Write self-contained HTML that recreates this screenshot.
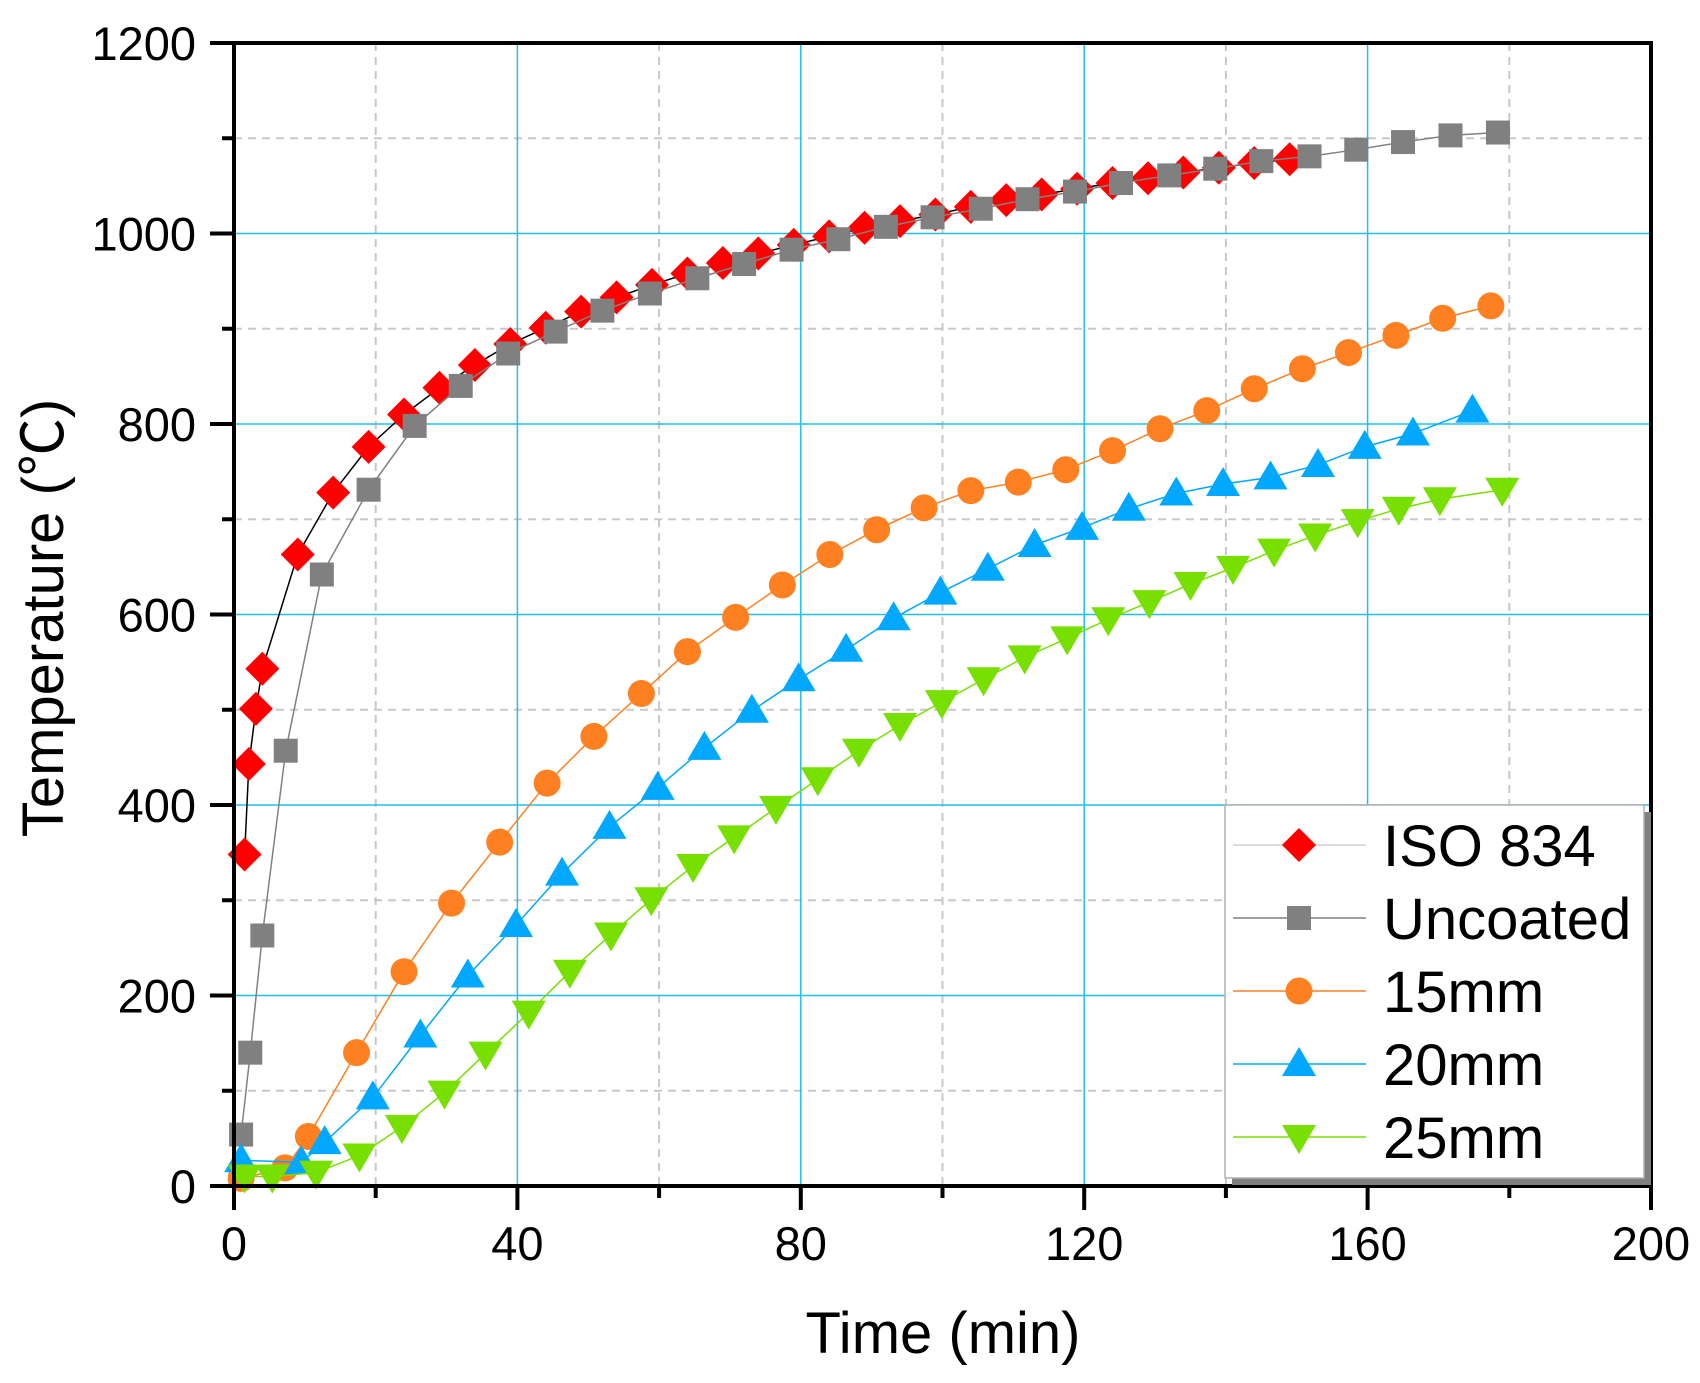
<!DOCTYPE html>
<html><head><meta charset="utf-8"><style>
html,body{margin:0;padding:0;background:#fff}
svg{display:block}
text{font-family:"Liberation Sans","Noto Sans CJK SC",sans-serif;fill:#000}
</style></head><body>
<svg id="chart" width="1700" height="1383" viewBox="0 0 1700 1383" xmlns="http://www.w3.org/2000/svg">
<g id="grid"></g>
<g id="series"></g>
<g id="axes"></g>
<g id="legend"></g>
<text x="943" y="1353" font-size="58" text-anchor="middle">Time (min)</text>
<text x="0" y="0" font-size="58" text-anchor="middle" transform="translate(63,618) rotate(-90)">Temperature (℃)</text>
</svg>
<script>
const xTicks=[0,40,80,120,160,200];
const yTicks=[0,200,400,600,800,1000,1200];
const isoT=[1.5,2.1,3.1,4,9,14,19,24,29,34,39,44,49,54,59,64,69,74,79,84,89,94,99,104,109,114,119,124,129,134,139,144,149];
const isoV=[348,443,501,543,663,728,776,810,838,862,884,901,918,933,946,958,969,979,988,997,1006,1013,1020,1028,1035,1041,1047,1053,1058,1064,1069,1074,1078];
const uncT=[1,2.3,4,7.3,12.4,19,25.5,32,38.7,45.4,52,58.7,65.4,72,78.7,85.3,92,98.6,105.4,112,118.7,125.2,132,138.5,145,151.8,158.4,165,171.7,178.4];
const uncV=[54,140,263,457,642,731,798,840,874,897,919,937,953,968,983,994,1007,1017,1026,1036,1044,1053,1061,1068,1076,1081,1088,1096,1103,1106];
const m15T=[1,7.2,10.5,17.3,24,30.7,37.5,44.2,50.8,57.5,64,70.8,77.4,84.1,90.7,97.4,104,110.7,117.4,124,130.7,137.3,144,150.8,157.3,164,170.6,177.4];
const m15V=[8,19,52,140,225,297,361,423,472,517,561,597,631,663,689,712,730,739,752,772,795,814,837,858,875,893,911,924];
const m20T=[1,9.5,12.8,19.6,26.3,33,39.8,46.3,53,59.8,66.4,73.1,79.7,86.4,93.1,99.7,106.4,113,119.7,126.3,133,139.6,146.3,153,159.6,166.4,174.8];
const m20V=[27,25,46,93,158,221,274,328,377,418,460,499,532,563,596,623,648,673,691,711,727,737,744,757,776,790,814];
const m25T=[1.5,5.4,11.6,17.7,23.7,29.7,35.5,41.6,47.4,53.2,58.9,64.8,70.6,76.5,82.4,88.2,94,99.9,105.8,111.6,117.6,123.4,129.2,135,141,146.8,152.6,158.6,164.4,170.2,179];
const m25V=[10,10,14,32,62,98,139,182,225,264,301,336,366,397,427,457,484,508,532,555,575,595,613,632,649,667,683,698,711,721,731];

const L=234,R=1651,T=43,B=1186;
const xs=v=>L+(v/200)*(R-L);
const ys=v=>B-(v/1200)*(B-T);
const NS='http://www.w3.org/2000/svg';
function mk(tag,attrs,parent){const e=document.createElementNS(NS,tag);for(const k in attrs)e.setAttribute(k,attrs[k]);parent.appendChild(e);return e;}
const grid=document.getElementById('grid'),axes=document.getElementById('axes'),ser=document.getElementById('series'),leg=document.getElementById('legend');

// minor dashed grid
for(let v=20;v<200;v+=40){const e=mk('line',{x1:xs(v),x2:xs(v),y1:T,y2:B,stroke:'#c8c8c8','stroke-width':2,'stroke-dasharray':'8,6'},grid);

}
for(let v=100;v<1200;v+=200){const e=mk('line',{x1:L,x2:R,y1:ys(v),y2:ys(v),stroke:'#c8c8c8','stroke-width':2,'stroke-dasharray':'8,6'},grid);

}
xTicks.slice(1,-1).forEach(v=>{const e=mk('line',{x1:xs(v),x2:xs(v),y1:T,y2:B,stroke:'#1ec0f0','stroke-width':1.5},grid);

});
yTicks.slice(1,-1).forEach(v=>{const e=mk('line',{x1:L,x2:R,y1:ys(v),y2:ys(v),stroke:'#1ec0f0','stroke-width':1.5},grid);

});

function marker(type,x,y,color,parent){
  let e;
  if(type==='diamond')e=mk('polygon',{points:`${x},${y-17} ${x+17},${y} ${x},${y+17} ${x-17},${y}`,fill:color},parent);
  else if(type==='square')e=mk('rect',{x:x-12,y:y-12,width:24,height:24,fill:color},parent);
  else if(type==='circle')e=mk('circle',{cx:x,cy:y,r:13.5,fill:color},parent);
  else if(type==='up')e=mk('polygon',{points:`${x},${y-17} ${x+17},${y+12} ${x-17},${y+12}`,fill:color},parent);
  else e=mk('polygon',{points:`${x-17},${y-12} ${x+17},${y-12} ${x},${y+17}`,fill:color},parent);
  return e;
}
const seriesDefs=[
 {n:'iso-834',t:isoT,v:isoV,c:'#ff0000',lc:'#000000',m:'diamond',label:'ISO 834',legLine:'#d0d0d0'},
 {n:'uncoated',t:uncT,v:uncV,c:'#808080',lc:'#808080',m:'square',label:'Uncoated',legLine:'#808080'},
 {n:'15mm',t:m15T,v:m15V,c:'#ff8020',lc:'#ff8020',m:'circle',label:'15mm',legLine:'#ff8020'},
 {n:'20mm',t:m20T,v:m20V,c:'#00a8ff',lc:'#00a8ff',m:'up',label:'20mm',legLine:'#00a8ff'},
 {n:'25mm',t:m25T,v:m25V,c:'#77e000',lc:'#77e000',m:'down',label:'25mm',legLine:'#77e000'}
];
seriesDefs.forEach(s=>{
  const g=mk('g',{},ser);
  
  
  const pts=s.t.map((t,i)=>xs(t)+','+ys(s.v[i])).join(' ');
  const pl=mk('polyline',{points:pts,fill:'none',stroke:s.lc,'stroke-width':1.5},g);
  
  
  s.t.forEach((t,i)=>{const e=marker(s.m,xs(t),ys(s.v[i]),s.c,g);
    
    });
});

// axes frame
const fr=mk('rect',{x:L,y:T,width:R-L,height:B-T,fill:'none',stroke:'#000','stroke-width':4},axes);


for(let v=0;v<=200;v+=20){const major=v%40===0;const e=mk('line',{x1:xs(v),x2:xs(v),y1:B,y2:B+(major?24:12),stroke:'#000','stroke-width':4},axes);

}
for(let v=0;v<=1200;v+=100){const major=v%200===0;const e=mk('line',{x1:L,x2:L-(major?24:12),y1:ys(v),y2:ys(v),stroke:'#000','stroke-width':4},axes);

}
xTicks.forEach(v=>{const e=mk('text',{x:xs(v),y:1260,'font-size':47,'text-anchor':'middle'},axes);e.textContent=v;

});
yTicks.forEach(v=>{const e=mk('text',{x:196,y:ys(v)+17,'font-size':47,'text-anchor':'end'},axes);e.textContent=v;

});

// legend
const sh=mk('rect',{x:1232,y:812,width:419,height:373,fill:'#808080'},leg);


const bx=mk('rect',{x:1225,y:805,width:419,height:373,fill:'#fff',stroke:'#b0b0b0','stroke-width':1.5},leg);


const legY=[845,918,991,1064,1137];
seriesDefs.forEach((s,i)=>{
  const g=mk('g',{},leg);
  
  
  mk('line',{x1:1233,x2:1366,y1:legY[i],y2:legY[i],stroke:s.legLine,'stroke-width':1.5},g);
  marker(s.m,1299,legY[i],s.c,g);
  const t=mk('text',{x:1383,y:legY[i]+21,'font-size':58},g);t.textContent=s.label;
});
</script>
</body></html>
